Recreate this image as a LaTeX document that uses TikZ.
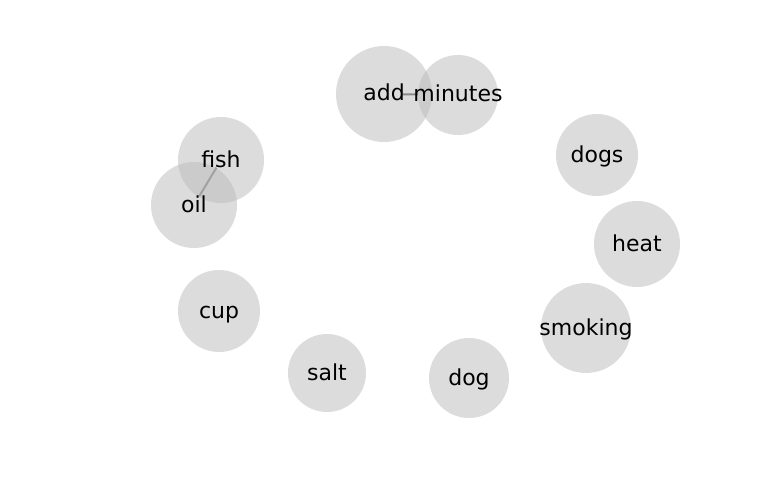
\documentclass[tikz,border=0pt]{standalone}
\usepackage{fontspec}
\setmainfont{DejaVu Sans}
\usetikzlibrary{positioning, backgrounds}

\begin{document}
\begin{tikzpicture}[x=1pt, y=-1pt,
  disc/.style={circle, fill=black!27, fill opacity=0.5, inner sep=0pt},
  word/.style={inner sep=0pt, text height=17pt, text depth=3pt,
               font=\fontsize{22}{26}\selectfont},
  link/.style={draw=black!65, line width=2pt},
]

% ---- canvas ----
\useasboundingbox (0,0) rectangle (768,500);

% ---- discs ----
\node[disc, minimum size=96pt] (add) at (384,94) {};
\node[disc, minimum size=80pt] (minutes) at (458,95) {};
\node[disc, minimum size=86pt] (fish) at (221,160) {};
\node[disc, minimum size=86pt] (oil) at (194,205) {};
\node[disc, minimum size=82pt] (dogs) at (597,155) {};
\node[disc, minimum size=86pt] (heat) at (637,244) {};
\node[disc, minimum size=90pt] (smoking) at (586,328) {};
\node[disc, minimum size=80pt] (dog) at (469,378) {};
\node[disc, minimum size=78pt] (salt) at (327,373) {};
\node[disc, minimum size=82pt] (cup) at (219,311) {};

% ---- links (under the discs) ----
\begin{scope}[on background layer]
  \draw[link, shorten <=9pt, shorten >=10pt] (fish.center) -- (oil.center);
  \draw[link, shorten <=18pt, shorten >=40pt] (add.center) -- (minutes.center);
\end{scope}

% ---- labels ----
\node[word] (add-l) at (add) {add};
\node[word] (minutes-l) at (minutes) {minutes};
\node[word] (fish-l) at (fish) {fish};
\node[word] (oil-l) at (oil) {oil};
\node[word] (dogs-l) at (dogs) {dogs};
\node[word] (heat-l) at (heat) {heat};
\node[word] (smoking-l) at (smoking) {smoking};
\node[word] (dog-l) at (dog) {dog};
\node[word] (salt-l) at (salt) {salt};
\node[word] (cup-l) at (cup) {cup};

\end{tikzpicture}
\end{document}
